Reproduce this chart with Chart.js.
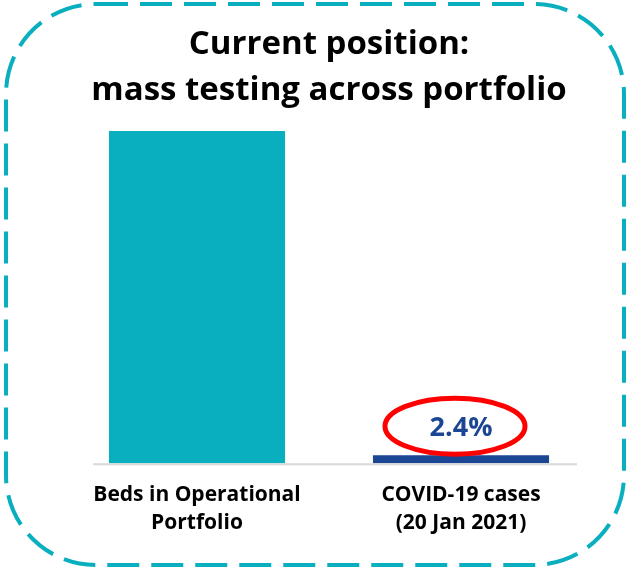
<!DOCTYPE html>
<html>
<head>
<meta charset="utf-8">
<script src="https://cdn.jsdelivr.net/npm/chart.js@4"></script>
<style>
  html, body { margin: 0; padding: 0; background: #fff; }
  #wrap { width: 629px; height: 568px; position: relative; }
</style>
</head>
<body>
<div id="wrap"><canvas id="chart"></canvas></div>
<script>
/* mass testing bar chart */

const categories = [
  ['Beds in Operational', 'Portfolio'],
  ['COVID-19 cases', '(20 Jan 2021)'],
];
const values     = [100, 2.4];
const barColors  = ['#0aafbf', '#1b4694'];
const labelled   = [1];   // bars that carry a % label
const titleLines = ['Current position:', 'mass testing across portfolio'];

const TEAL = '#0aafbf';
const FONT = "'Open Sans', 'Lato', sans-serif";

// dashed rounded frame round the whole picture
const framePlugin = {
  id: 'frame',
  beforeDraw(chart) {
    const { ctx } = chart;
    ctx.save();
    ctx.strokeStyle = TEAL;
    ctx.lineWidth = 4;
    ctx.setLineDash([32, 12]);
    ctx.beginPath();
    ctx.roundRect(6, 4, 618, 561, 90);
    ctx.stroke();
    ctx.restore();
  },
};

// short grey baseline under the bars
const baselinePlugin = {
  id: 'baseline',
  beforeDatasetsDraw(chart) {
    const { ctx, chartArea } = chart;
    ctx.save();
    ctx.strokeStyle = '#d9d9d9';
    ctx.lineWidth = 2;
    ctx.beginPath();
    ctx.moveTo(93, chartArea.bottom + 1);
    ctx.lineTo(577, chartArea.bottom + 1);
    ctx.stroke();
    ctx.restore();
  },
};

// value label with red ring
const ringLabelPlugin = {
  id: 'ringLabel',
  afterDatasetsDraw(chart) {
    const { ctx } = chart;
    const meta = chart.getDatasetMeta(0);
    labelled.forEach(i => {
      const bar = meta.data[i];
      const cx = bar.x;
      const cy = bar.y - 27;
      ctx.save();
      ctx.fillStyle = barColors[i];
      ctx.font = `bold 27px ${FONT}`;
      ctx.textAlign = 'center';
      ctx.textBaseline = 'middle';
      ctx.fillText(values[i].toFixed(1) + '%', cx, cy);
      ctx.strokeStyle = '#ff0000';
      ctx.lineWidth = 5;
      ctx.beginPath();
      ctx.ellipse(cx - 6, cy - 2, 70, 28, 0, 0, Math.PI * 2);
      ctx.stroke();
      ctx.restore();
    });
  },
};

new Chart(document.getElementById('chart'), {
  type: 'bar',
  data: {
    labels: categories,
    datasets: [{
      data: values,
      backgroundColor: barColors,
      borderWidth: 0,
      barPercentage: 0.667,
      categoryPercentage: 1,
    }],
  },
  options: {
    responsive: true,
    maintainAspectRatio: false,
    animation: false,
    layout: { padding: { left: 65, right: 36, top: 0, bottom: 21 } },
    plugins: {
      legend: { display: false },
      tooltip: { enabled: false },
      title: {
        display: true,
        text: titleLines,
        color: '#000',
        font: { family: FONT, size: 33, weight: 'bold', lineHeight: 1.38 },
        padding: { top: 22, bottom: 18 },
      },
    },
    scales: {
      x: {
        grid: { display: false },
        border: { display: false },
        ticks: {
          color: '#000',
          font: { family: FONT, size: 21, weight: 'bold', lineHeight: 1.33 },
          padding: 10,
          maxRotation: 0,
        },
      },
      y: {
        display: false,
        min: 0,
        max: 100,
      },
    },
  },
  plugins: [framePlugin, baselinePlugin, ringLabelPlugin],
});
</script>
</body>
</html>
